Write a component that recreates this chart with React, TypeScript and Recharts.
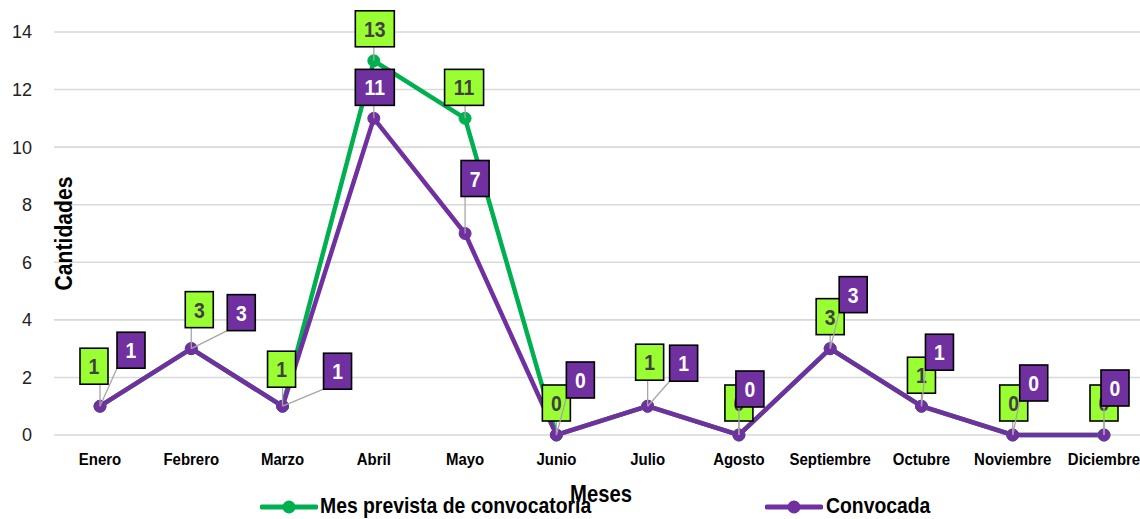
import { LineChart, Line, XAxis, YAxis, CartesianGrid, LabelList, Legend, Label } from 'recharts';

/** categorías (meses) */
const MESES = ['Enero', 'Febrero', 'Marzo', 'Abril', 'Mayo', 'Junio', 'Julio', 'Agosto', 'Septiembre', 'Octubre', 'Noviembre', 'Diciembre'];
/** Mes prevista de convocatoria */
const PREVISTA = [1, 3, 1, 13, 11, 0, 1, 0, 3, 1, 0, 0];
/** Convocada */
const CONVOCADA = [1, 3, 1, 11, 7, 0, 1, 0, 3, 1, 0, 0];
const Y_TICKS = [0, 2, 4, 6, 8, 10, 12, 14];

const GREEN = '#00B050';
const PURPLE = '#7030A0';
const LIME = '#99FF33';
const BOLD_FONT = '"Liberation Sans", Arial, sans-serif';
// no hay fuente estrecha instalada: se comprime en horizontal
const NARROW_X = 0.88;

/** desplazamiento de las etiquetas respecto al punto (dx, dy) */
const OFF_PREVISTA: [number, number][] = [
  [-6, -40], [8, -39], [-1, -37], [1, -32], [-1, -31], [0, -32],
  [2, -44], [0, -32], [0, -32], [0, -31], [1, -32], [0, -32],
];
const OFF_CONVOCADA: [number, number][] = [
  [31, -56], [50, -36], [55, -35], [1, -31], [10, -55], [24, -55],
  [36, -43], [11, -46], [23, -54], [18, -54], [21, -52], [11, -47],
];

const data = MESES.map((mes, i) => ({ mes, prevista: PREVISTA[i], convocada: CONVOCADA[i] }));

/** texto en negrita comprimido */
function NarrowText({ x, y, size, fill, anchor = 'middle', children }: any) {
  return (
    <text
      transform={`translate(${x} ${y}) scale(${NARROW_X} 1)`}
      x={0}
      y={0}
      textAnchor={anchor}
      fill={fill}
      fontFamily={BOLD_FONT}
      fontWeight="bold"
      fontSize={size}
    >
      {children}
    </text>
  );
}

function boxLabel(offsets: [number, number][], fill: string, color: string) {
  return (props: any) => {
    const x = props.x ?? props.viewBox?.x;
    const y = props.y ?? props.viewBox?.y;
    const { value, index } = props;
    if (x == null || y == null) return null;
    const [dx, dy] = offsets[index] || [0, -30];
    const w = String(value).length > 1 ? 39 : 28;
    const h = 36;
    const cx = x + dx;
    const cy = y + dy;
    const left = cx - w / 2;
    const top = cy - h / 2;
    // punto más cercano del recuadro para la línea guía
    const px = Math.min(Math.max(x, left), left + w);
    const py = Math.min(Math.max(y, top), top + h);
    const dist = Math.hypot(px - x, py - y);
    return (
      <g>
        {dist > 6 && <line x1={x} y1={y} x2={px} y2={py} stroke="#A6A6A6" strokeWidth={1.3} />}
        <rect x={left} y={top} width={w} height={h} fill={fill} stroke="#000" strokeWidth={1.6} />
        <NarrowText x={cx} y={cy + 8} size={22} fill={color}>{value}</NarrowText>
      </g>
    );
  };
}

function MonthTick({ x, y, payload }: any) {
  return <NarrowText x={x} y={y + 12} size={17} fill="#000">{payload.value}</NarrowText>;
}

const SERIES = [
  { name: 'Mes prevista de convocatoria', color: GREEN, left: 260, textLeft: 320 },
  { name: 'Convocada', color: PURPLE, left: 765, textLeft: 826 },
];

function LegendBox() {
  return (
    <div style={{ position: 'relative', width: 1140, height: 26 }}>
      {SERIES.map((s) => (
        <div key={s.name}>
          <svg width={58} height={14} style={{ position: 'absolute', left: s.left, top: 5 }}>
            <line x1={2} y1={7} x2={56} y2={7} stroke={s.color} strokeWidth={5} strokeLinecap="round" />
            <circle cx={29} cy={7} r={6.5} fill={s.color} />
          </svg>
          <span
            style={{
              position: 'absolute', left: s.textLeft, top: 0, fontFamily: BOLD_FONT, fontWeight: 'bold',
              fontSize: 22, lineHeight: '22px', color: '#000', whiteSpace: 'nowrap',
              transform: `scaleX(${NARROW_X})`, transformOrigin: 'left center',
            }}
          >
            {s.name}
          </span>
        </div>
      ))}
    </div>
  );
}

export default function App() {
  return (
    <div style={{ position: 'absolute', left: 0, top: 0, width: 1140, height: 519, background: '#fff' }}>
      <LineChart width={1140} height={519} data={data} margin={{ top: 32, right: 0, bottom: 0, left: 0 }}>
        <CartesianGrid horizontal vertical={false} stroke="#D9D9D9" strokeWidth={1.6} />
        <XAxis
          dataKey="mes"
          scale="point"
          padding={{ left: 46, right: 36 }}
          height={84}
          axisLine={false}
          tickLine={false}
          tickSize={0}
          tickMargin={18}
          interval={0}
          tick={<MonthTick />}
        >
          <Label
            content={(p: any) => {
              const vb = p.viewBox || { x: 54, y: 435, width: 1086, height: 84 };
              return <NarrowText x={601} y={vb.y + 67} size={23} fill="#000">Meses</NarrowText>;
            }}
          />
        </XAxis>
        <YAxis
          domain={[0, 14]}
          ticks={Y_TICKS}
          width={54}
          axisLine={false}
          tickLine={false}
          tickSize={0}
          tickMargin={22}
          tick={{ fontFamily: '"Liberation Sans", sans-serif', fontSize: 18, fill: '#222' }}
        >
          <Label
            content={(p: any) => {
              const vb = p.viewBox || { x: 0, y: 32, width: 54, height: 403 };
              const cx = vb.x + vb.width + 18;
              const cy = vb.y + vb.height / 2;
              return (
                <text
                  transform={`translate(${cx} ${cy}) rotate(-90) scale(${NARROW_X} 1)`}
                  x={0}
                  y={0}
                  textAnchor="middle"
                  fontFamily={BOLD_FONT}
                  fontWeight="bold"
                  fontSize={24}
                  fill="#000"
                >
                  Cantidades
                </text>
              );
            }}
          />
        </YAxis>
        <Legend verticalAlign="middle" layout="horizontal" wrapperStyle={{ top: 495, left: 0, width: 1140 }} content={() => <LegendBox />} />
        <Line dataKey="prevista" name={SERIES[0].name} stroke={GREEN} strokeWidth={4.5} dot={{ r: 6, fill: GREEN, stroke: GREEN, strokeWidth: 1 }} isAnimationActive={false} />
        <Line dataKey="convocada" name={SERIES[1].name} stroke={PURPLE} strokeWidth={4.5} dot={{ r: 6, fill: PURPLE, stroke: PURPLE, strokeWidth: 1 }} isAnimationActive={false} />
        <Line dataKey="prevista" stroke="none" dot={false} activeDot={false} legendType="none" isAnimationActive={false}>
          <LabelList dataKey="prevista" content={boxLabel(OFF_PREVISTA, LIME, '#404040')} />
        </Line>
        <Line dataKey="convocada" stroke="none" dot={false} activeDot={false} legendType="none" isAnimationActive={false}>
          <LabelList dataKey="convocada" content={boxLabel(OFF_CONVOCADA, PURPLE, '#fff')} />
        </Line>
      </LineChart>
    </div>
  );
}
